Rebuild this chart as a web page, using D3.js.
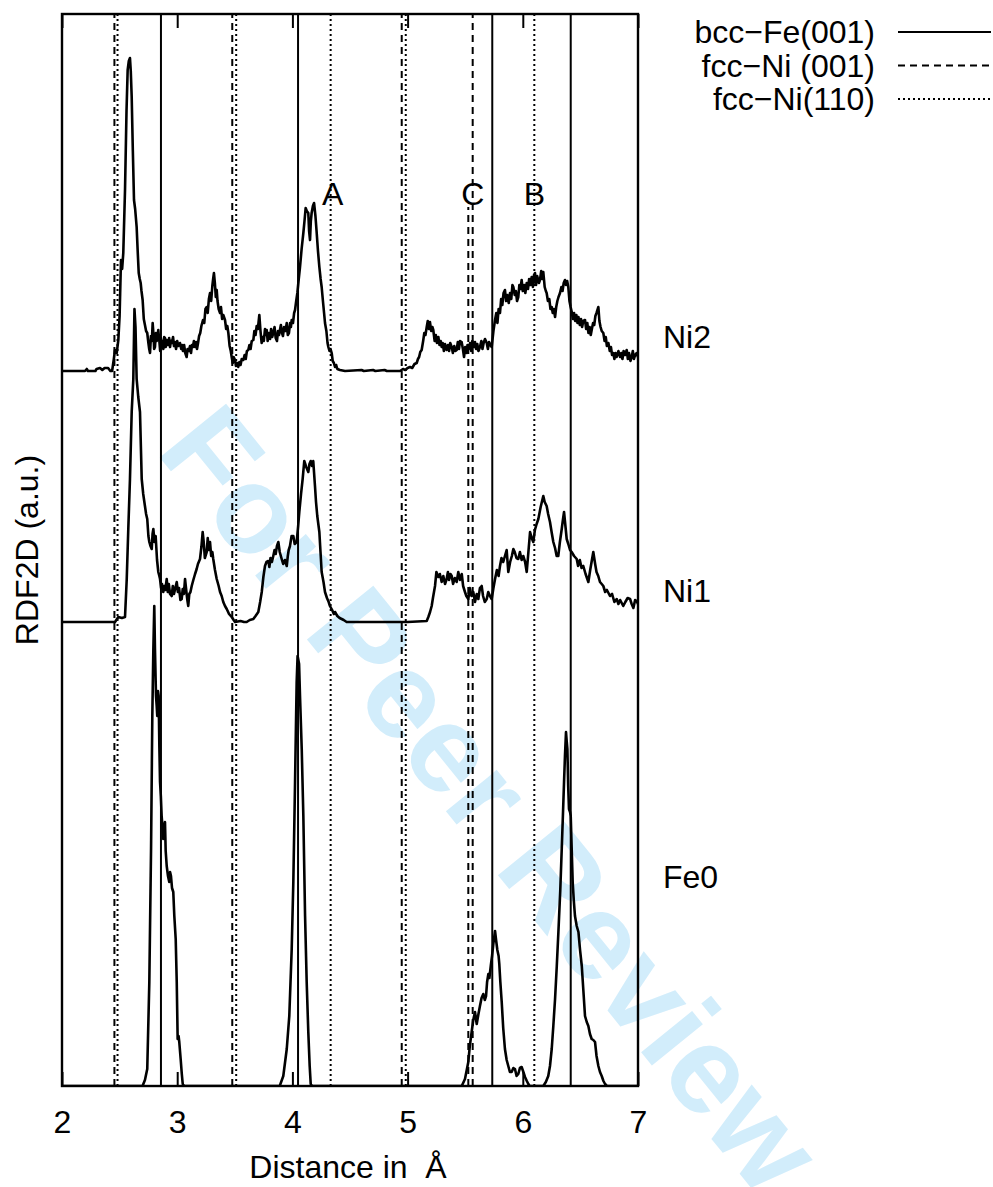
<!DOCTYPE html>
<html>
<head>
<meta charset="utf-8">
<script src="https://cdn.jsdelivr.net/npm/d3@7/dist/d3.min.js"></script>
<style>
  html, body { margin: 0; padding: 0; background: #fff; }
  svg { display: block; }
  text { font-family: "Liberation Sans", Arial, Helvetica, sans-serif; fill: #000; white-space: pre; }
</style>
</head>
<body>
<svg id="chart" width="993" height="1187"></svg>
<script>
// ---------- data ----------
// 2D radial distribution functions, [distance in Å, RDF2D height in a.u.]
const fe0Profile = [
  [2.00,0],[2.70,0],[2.706,0.02],[2.72,0.06],[2.74,0.17],[2.758,1.04],[2.773,2.37],[2.784,3.70],[2.793,4.37],
  [2.801,4.80],[2.807,4.37],[2.816,3.90],[2.822,3.80],[2.827,3.70],[2.833,3.95],[2.839,3.90],[2.845,3.40],
  [2.851,3.04],[2.858,2.90],[2.865,2.70],[2.872,2.60],[2.879,2.47],[2.886,2.58],[2.894,2.64],[2.90,2.35],
  [2.909,2.20],[2.92,2.10],[2.931,2.04],[2.938,2.14],[2.946,2.10],[2.955,1.98],[2.966,1.94],[2.975,1.70],
  [2.987,1.47],[2.996,1.04],[3.004,0.47],[3.012,0.50],[3.018,0.44],[3.030,0.27],[3.04,0.12],[3.048,0.02],
  [3.06,0],[3.89,0],[3.921,0.10],[3.951,0.37],[3.973,0.70],[3.994,1.37],[4.008,2.04],[4.023,3.04],
  [4.037,4.04],[4.045,4.30],[4.058,4.22],[4.066,3.90],[4.081,3.37],[4.095,2.70],[4.110,1.70],[4.124,1.04],
  [4.138,0.54],[4.15,0.20],[4.159,0.02],[4.17,0],[5.47,0],[5.498,0.07],[5.527,0.24],[5.54,0.40],[5.556,0.54],
  [5.57,0.66],[5.585,0.74],[5.60,0.62],[5.615,0.72],[5.628,0.80],[5.642,0.88],[5.657,0.92],[5.67,0.86],
  [5.681,0.90],[5.69,1.04],[5.701,1.12],[5.71,1.08],[5.722,1.20],[5.733,1.30],[5.744,1.42],[5.759,1.55],
  [5.768,1.46],[5.779,1.36],[5.79,1.30],[5.796,1.22],[5.805,1.04],[5.817,0.84],[5.83,0.58],[5.845,0.37],
  [5.86,0.26],[5.874,0.20],[5.888,0.14],[5.903,0.14],[5.918,0.18],[5.932,0.17],[5.946,0.10],[5.961,0.12],
  [5.975,0.18],[5.990,0.19],[6.005,0.14],[6.019,0.09],[6.035,0.05],[6.048,0.02],[6.06,0],[6.178,0],
  [6.20,0.04],[6.221,0.10],[6.236,0.20],[6.251,0.37],[6.265,0.60],[6.280,0.87],[6.295,1.20],[6.309,1.54],
  [6.325,1.95],[6.338,2.37],[6.348,2.70],[6.358,3.04],[6.366,3.30],[6.375,3.54],[6.381,3.45],[6.387,3.37],
  [6.394,3.00],[6.401,2.77],[6.41,2.74],[6.416,2.70],[6.425,2.35],[6.433,2.04],[6.443,1.85],[6.453,1.70],
  [6.468,1.60],[6.483,1.54],[6.497,1.36],[6.512,1.20],[6.526,0.95],[6.540,0.70],[6.555,0.64],[6.569,0.60],
  [6.583,0.52],[6.598,0.47],[6.612,0.46],[6.627,0.44],[6.64,0.30],[6.656,0.20],[6.67,0.14],[6.685,0.10],
  [6.70,0.05],[6.714,0.02],[6.73,0],[7.00,0]
];

const ni1Profile = [
  [2.00,0],[2.30,0],[2.46,0],[2.489,0.05],[2.52,0.04],[2.547,0.05],[2.562,0.43],[2.576,0.95],[2.590,1.43],
  [2.605,2.10],[2.619,2.43],[2.629,3.13],[2.638,2.95],[2.648,2.43],[2.662,2.25],[2.677,2.10],[2.692,1.43],
  [2.705,1.28],[2.720,1.16],[2.730,1.08],[2.740,1.03],[2.750,0.86],[2.758,0.80],[2.768,0.76],[2.779,0.73],
  [2.786,0.88],[2.793,0.93],[2.803,0.80],[2.813,0.86],[2.825,0.62],[2.836,0.50],[2.845,0.46],[2.851,0.43],
  [2.86,0.34],[2.868,0.38],[2.879,0.30],[2.888,0.36],[2.897,0.32],[2.909,0.43],[2.918,0.30],[2.927,0.38],
  [2.938,0.28],[2.952,0.26],[2.962,0.36],[2.972,0.28],[2.984,0.34],[2.996,0.40],[3.006,0.30],[3.016,0.34],
  [3.028,0.22],[3.039,0.23],[3.048,0.33],[3.058,0.28],[3.068,0.43],[3.08,0.30],[3.088,0.22],[3.096,0.16],
  [3.105,0.28],[3.115,0.30],[3.126,0.36],[3.14,0.42],[3.155,0.48],[3.169,0.53],[3.18,0.58],[3.198,0.63],
  [3.21,0.75],[3.221,0.90],[3.23,0.80],[3.24,0.64],[3.256,0.70],[3.265,0.84],[3.275,0.72],[3.285,0.80],
  [3.295,0.66],[3.305,0.70],[3.313,0.63],[3.328,0.52],[3.343,0.43],[3.36,0.36],[3.372,0.30],[3.386,0.26],
  [3.40,0.20],[3.415,0.16],[3.430,0.13],[3.45,0.08],[3.473,0.05],[3.49,0.02],[3.502,0],[3.55,0.01],
  [3.58,0],[3.603,0],[3.63,0.02],[3.661,0.03],[3.68,0.06],[3.704,0.10],[3.72,0.20],[3.734,0.30],
  [3.748,0.45],[3.762,0.56],[3.775,0.60],[3.791,0.61],[3.80,0.55],[3.81,0.64],[3.822,0.60],[3.834,0.66],
  [3.845,0.72],[3.855,0.68],[3.866,0.76],[3.878,0.80],[3.89,0.70],[3.907,0.63],[3.92,0.58],[3.935,0.62],
  [3.951,0.56],[3.96,0.66],[3.968,0.72],[3.979,0.76],[3.993,0.86],[4.008,0.86],[4.02,0.78],[4.037,0.80],
  [4.05,0.96],[4.060,1.10],[4.075,1.28],[4.089,1.43],[4.103,1.61],[4.12,1.55],[4.138,1.50],[4.148,1.58],
  [4.159,1.61],[4.17,1.56],[4.181,1.61],[4.196,1.36],[4.205,1.20],[4.216,1.06],[4.234,0.90],[4.244,0.70],
  [4.254,0.50],[4.27,0.40],[4.283,0.30],[4.30,0.24],[4.315,0.20],[4.326,0.16],[4.345,0.12],[4.36,0.08],
  [4.370,0.10],[4.39,0.06],[4.41,0.04],[4.428,0.03],[4.445,0.02],[4.471,0],[5.00,0],[5.166,0.01],
  [5.18,0.05],[5.195,0.10],[5.209,0.16],[5.22,0.24],[5.238,0.36],[5.25,0.50],[5.267,0.45],[5.28,0.48],
  [5.296,0.40],[5.31,0.46],[5.325,0.38],[5.339,0.43],[5.35,0.50],[5.36,0.42],[5.372,0.48],[5.383,0.46],
  [5.395,0.38],[5.41,0.44],[5.426,0.40],[5.44,0.50],[5.455,0.42],[5.470,0.48],[5.482,0.36],[5.498,0.30],
  [5.51,0.26],[5.527,0.23],[5.54,0.34],[5.555,0.26],[5.570,0.30],[5.585,0.20],[5.60,0.28],[5.614,0.23],
  [5.628,0.34],[5.643,0.36],[5.655,0.26],[5.67,0.20],[5.687,0.23],[5.70,0.30],[5.715,0.26],[5.730,0.23],
  [5.745,0.34],[5.759,0.43],[5.775,0.52],[5.79,0.46],[5.802,0.56],[5.815,0.64],[5.83,0.60],[5.845,0.66],
  [5.86,0.72],[5.874,0.50],[5.89,0.60],[5.905,0.66],[5.918,0.73],[5.93,0.70],[5.945,0.64],[5.961,0.63],
  [5.975,0.70],[5.99,0.62],[6.004,0.66],[6.02,0.60],[6.034,0.50],[6.05,0.72],[6.063,0.90],[6.077,0.84],
  [6.091,0.80],[6.105,0.92],[6.12,0.98],[6.135,1.03],[6.155,1.15],[6.178,1.26],[6.19,1.20],[6.207,1.16],
  [6.22,1.08],[6.236,1.00],[6.25,0.90],[6.265,0.80],[6.28,0.74],[6.294,0.66],[6.308,0.66],[6.322,0.80],
  [6.338,0.93],[6.348,1.02],[6.358,1.10],[6.37,0.96],[6.381,0.83],[6.395,0.78],[6.41,0.72],[6.424,0.70],
  [6.445,0.66],[6.468,0.63],[6.48,0.56],[6.495,0.62],[6.51,0.54],[6.525,0.56],[6.545,0.48],[6.569,0.40],
  [6.585,0.52],[6.60,0.62],[6.612,0.70],[6.628,0.58],[6.64,0.50],[6.655,0.46],[6.67,0.40],[6.685,0.38],
  [6.699,0.36],[6.715,0.30],[6.73,0.32],[6.757,0.26],[6.775,0.28],[6.795,0.20],[6.815,0.23],[6.83,0.18],
  [6.845,0.22],[6.872,0.16],[6.89,0.20],[6.91,0.24],[6.931,0.23],[6.945,0.18],[6.96,0.14],[6.975,0.22],
  [6.989,0.21],[7.00,0.18]
];

const ni2Profile = [
  [2.00,0],[2.10,0],[2.20,0],[2.215,0.02],[2.225,0],[2.29,0],[2.30,0.02],[2.33,0.03],[2.35,0.01],[2.37,0.03],
  [2.40,0.03],[2.42,0],[2.435,0],[2.45,0.12],[2.46,0.21],[2.475,0.18],[2.489,0.31],[2.50,0.55],[2.512,1.11],
  [2.522,1.02],[2.532,1.18],[2.547,1.81],[2.56,2.60],[2.570,3.01],[2.58,3.10],[2.590,3.13],[2.597,3.00],
  [2.605,2.74],[2.615,2.20],[2.625,1.71],[2.635,1.62],[2.648,1.44],[2.657,1.20],[2.666,0.98],[2.675,0.92],
  [2.683,0.88],[2.69,0.80],[2.700,0.71],[2.71,0.52],[2.720,0.46],[2.73,0.40],[2.740,0.38],[2.75,0.28],
  [2.757,0.22],[2.764,0.18],[2.772,0.35],[2.78,0.30],[2.787,0.48],[2.795,0.35],[2.80,0.22],[2.807,0.24],
  [2.815,0.38],[2.822,0.30],[2.83,0.36],[2.836,0.41],[2.845,0.30],[2.852,0.20],[2.858,0.33],[2.865,0.24],
  [2.873,0.30],[2.88,0.22],[2.887,0.34],[2.894,0.33],[2.90,0.24],[2.908,0.31],[2.915,0.27],[2.92,0.26],
  [2.93,0.33],[2.938,0.24],[2.945,0.30],[2.953,0.28],[2.964,0.34],[2.972,0.25],[2.98,0.29],[2.99,0.22],
  [3.00,0.30],[3.01,0.25],[3.024,0.28],[3.035,0.22],[3.042,0.26],[3.05,0.20],[3.06,0.26],[3.07,0.18],
  [3.082,0.14],[3.09,0.22],[3.10,0.20],[3.111,0.25],[3.12,0.18],[3.128,0.26],[3.137,0.24],[3.145,0.30],
  [3.155,0.24],[3.165,0.29],[3.172,0.22],[3.181,0.28],[3.19,0.35],[3.20,0.38],[3.21,0.45],[3.224,0.51],
  [3.235,0.48],[3.245,0.62],[3.256,0.64],[3.265,0.58],[3.275,0.72],[3.285,0.78],[3.295,0.70],[3.305,0.85],
  [3.312,0.92],[3.319,0.98],[3.327,0.88],[3.335,0.74],[3.343,0.81],[3.35,0.70],[3.36,0.62],[3.372,0.58],
  [3.38,0.64],[3.39,0.52],[3.40,0.56],[3.415,0.51],[3.425,0.42],[3.435,0.45],[3.444,0.38],[3.455,0.25],
  [3.465,0.20],[3.473,0.14],[3.482,0.08],[3.49,0.14],[3.502,0.11],[3.51,0.05],[3.52,0.08],[3.530,0.04],
  [3.54,0.09],[3.55,0.06],[3.56,0.12],[3.574,0.11],[3.585,0.16],[3.595,0.12],[3.605,0.20],[3.617,0.21],
  [3.627,0.26],[3.637,0.22],[3.647,0.30],[3.661,0.31],[3.67,0.40],[3.68,0.36],[3.69,0.45],[3.70,0.42],
  [3.713,0.56],[3.723,0.40],[3.733,0.28],[3.742,0.34],[3.752,0.30],[3.762,0.42],[3.770,0.36],[3.777,0.41],
  [3.785,0.30],[3.795,0.38],[3.806,0.32],[3.815,0.42],[3.825,0.34],[3.834,0.38],[3.845,0.44],[3.855,0.33],
  [3.866,0.30],[3.875,0.40],[3.884,0.36],[3.892,0.41],[3.90,0.46],[3.91,0.38],[3.918,0.35],[3.928,0.44],
  [3.94,0.40],[3.951,0.48],[3.96,0.36],[3.97,0.38],[3.98,0.48],[3.987,0.44],[3.994,0.51],[4.005,0.48],
  [4.015,0.58],[4.023,0.61],[4.033,0.70],[4.043,0.78],[4.055,0.92],[4.066,1.04],[4.08,1.22],[4.095,1.38],
  [4.105,1.50],[4.115,1.63],[4.125,1.60],[4.138,1.58],[4.145,1.40],[4.153,1.31],[4.16,1.50],[4.167,1.58],
  [4.178,1.65],[4.188,1.68],[4.20,1.55],[4.211,1.38],[4.222,1.20],[4.234,1.04],[4.245,0.92],[4.254,0.84],
  [4.265,0.70],[4.275,0.58],[4.283,0.48],[4.295,0.40],[4.305,0.28],[4.312,0.24],[4.322,0.20],[4.331,0.22],
  [4.341,0.18],[4.35,0.10],[4.36,0.08],[4.370,0.04],[4.38,0.06],[4.39,0.02],[4.413,0.01],[4.457,0],
  [4.60,0.01],[4.62,0],[4.70,0.01],[4.72,0],[4.80,0.01],[4.82,0],[4.934,0],[4.96,0.02],[4.98,0.01],
  [5.00,0.03],[5.021,0.04],[5.04,0.03],[5.06,0.07],[5.079,0.08],[5.09,0.12],[5.10,0.14],[5.11,0.19],
  [5.122,0.21],[5.135,0.30],[5.145,0.38],[5.155,0.36],[5.166,0.44],[5.175,0.50],[5.185,0.42],[5.194,0.49],
  [5.205,0.40],[5.215,0.44],[5.223,0.41],[5.235,0.30],[5.245,0.36],[5.255,0.28],[5.267,0.34],[5.277,0.26],
  [5.287,0.30],[5.296,0.24],[5.305,0.28],[5.315,0.20],[5.325,0.27],[5.339,0.21],[5.35,0.26],[5.36,0.20],
  [5.37,0.28],[5.383,0.24],[5.393,0.18],[5.405,0.25],[5.415,0.20],[5.426,0.21],[5.436,0.29],[5.446,0.22],
  [5.455,0.30],[5.469,0.29],[5.48,0.22],[5.49,0.14],[5.50,0.24],[5.513,0.18],[5.52,0.26],[5.53,0.22],
  [5.542,0.28],[5.552,0.20],[5.562,0.30],[5.575,0.24],[5.585,0.29],[5.595,0.22],[5.605,0.27],[5.615,0.20],
  [5.628,0.24],[5.64,0.30],[5.65,0.22],[5.66,0.28],[5.672,0.32],[5.687,0.28],[5.697,0.22],[5.707,0.29],
  [5.718,0.26],[5.730,0.24],[5.745,0.40],[5.759,0.51],[5.77,0.58],[5.78,0.48],[5.79,0.62],[5.802,0.58],
  [5.812,0.72],[5.822,0.66],[5.833,0.78],[5.845,0.81],[5.855,0.70],[5.865,0.76],[5.878,0.68],[5.889,0.78],
  [5.90,0.72],[5.91,0.86],[5.918,0.84],[5.93,0.76],[5.94,0.80],[5.95,0.70],[5.961,0.74],[5.97,0.86],
  [5.98,0.82],[5.990,0.91],[6.00,0.80],[6.012,0.86],[6.022,0.78],[6.034,0.88],[6.045,0.82],[6.055,0.92],
  [6.066,0.86],[6.077,0.94],[6.088,0.84],[6.097,0.96],[6.106,0.98],[6.115,0.86],[6.125,0.95],[6.14,0.88],
  [6.149,0.91],[6.16,1.00],[6.17,0.92],[6.178,0.99],[6.19,0.84],[6.20,0.80],[6.207,0.78],[6.218,0.70],
  [6.23,0.72],[6.24,0.62],[6.251,0.64],[6.26,0.58],[6.27,0.62],[6.280,0.54],[6.29,0.64],[6.30,0.70],
  [6.31,0.74],[6.323,0.78],[6.335,0.84],[6.345,0.80],[6.355,0.88],[6.366,0.91],[6.375,0.86],[6.385,0.90],
  [6.395,0.84],[6.405,0.70],[6.415,0.64],[6.425,0.59],[6.435,0.52],[6.445,0.58],[6.455,0.50],[6.465,0.56],
  [6.475,0.48],[6.483,0.54],[6.495,0.46],[6.505,0.52],[6.515,0.44],[6.525,0.50],[6.540,0.51],[6.55,0.42],
  [6.56,0.48],[6.57,0.38],[6.58,0.44],[6.59,0.36],[6.598,0.41],[6.61,0.48],[6.62,0.46],[6.63,0.55],
  [6.64,0.58],[6.656,0.64],[6.665,0.50],[6.675,0.44],[6.685,0.40],[6.699,0.38],[6.71,0.30],[6.72,0.34],
  [6.73,0.25],[6.743,0.28],[6.755,0.20],[6.765,0.24],[6.775,0.16],[6.786,0.18],[6.795,0.12],[6.805,0.18],
  [6.815,0.14],[6.83,0.20],[6.844,0.14],[6.855,0.18],[6.865,0.12],[6.875,0.20],[6.888,0.16],[6.902,0.21],
  [6.912,0.12],[6.922,0.18],[6.935,0.10],[6.945,0.14],[6.955,0.20],[6.965,0.12],[6.975,0.16],[6.988,0.18],
  [7.00,0.14]
];

// vertical stacking of the three curves (a.u.)
const seriesNames   = ["Fe0", "Ni1", "Ni2"];
const seriesOffsets = [0, 4.64, 7.15];
const seriesLabelAt = [1.98, 4.84, 7.38];

// reference neighbour distances (Å)
const bccFe001 = [2.859, 4.049, 5.735, 6.416];
const fccNi001 = [2.455, 3.478, 4.949, 5.565];
const fccNi001Partial = [[5.527, 8.79]];   // [distance, upper end in a.u.]
const fccNi110 = [2.482, 3.512, 4.332, 4.984, 6.100];

// peak annotations
const peakLabels = [["A", 4.35], ["C", 5.565], ["B", 6.10]];

const xTicks = [2, 3, 4, 5, 6, 7];
const legendItems = [
  ["bcc\u2212Fe(001)", "solid"],
  ["fcc\u2212Ni (001)", "dashed"],
  ["fcc\u2212Ni(110)", "dotted"]
];

// ---------- layout ----------
const svg = d3.select("#chart");
const plot = { left: 62, right: 638, top: 14, bottom: 1086 };
const x = d3.scaleLinear().domain([2, 7]).range([plot.left, plot.right]);
const y = d3.scaleLinear().domain([0, 10.72]).range([plot.bottom, plot.top]);
const dashes = { solid: null, dashed: "7,5", dotted: "2,3" };
const FONT = 32;

// watermark
svg.append("text")
  .attr("transform", "translate(458,826) rotate(51)")
  .attr("text-anchor", "middle")
  .style("font-size", "124px")
  .style("font-weight", "bold")
  .style("fill", "#d2edfb")
  .text("For Peer Review");

svg.append("clipPath").attr("id", "plotClip")
  .append("rect")
  .attr("x", plot.left).attr("y", plot.top)
  .attr("width", plot.right - plot.left).attr("height", plot.bottom - plot.top);

const g = svg.append("g").attr("clip-path", "url(#plotClip)");

// reference lines
function refLines(values, style) {
  g.selectAll(null).data(values).enter().append("line")
    .attr("x1", d => x(d)).attr("x2", d => x(d))
    .attr("y1", y(0)).attr("y2", plot.top)
    .attr("stroke", "#000").attr("stroke-width", 2)
    .attr("stroke-dasharray", dashes[style]);
}
refLines(bccFe001, "solid");
refLines(fccNi001, "dashed");
refLines(fccNi110, "dotted");
g.selectAll(null).data(fccNi001Partial).enter().append("line")
  .attr("x1", d => x(d[0])).attr("x2", d => x(d[0]))
  .attr("y1", y(0)).attr("y2", d => y(d[1]))
  .attr("stroke", "#000").attr("stroke-width", 2)
  .attr("stroke-dasharray", dashes.dashed);

// RDF curves
const profiles = [fe0Profile, ni1Profile, ni2Profile];
profiles.forEach((prof, i) => {
  const off = seriesOffsets[i];
  const line = d3.line().x(d => x(d[0])).y(d => y(d[1] + off));
  g.append("path")
    .attr("d", line(prof))
    .attr("fill", "none")
    .attr("stroke", "#000")
    .attr("stroke-width", 2.6)
    .attr("stroke-linejoin", "round");
});

// axes: inward ticks on bottom and top
const bottomAxis = d3.axisBottom(x).tickValues(xTicks).tickSizeInner(-14).tickSizeOuter(0)
  .tickPadding(24).tickFormat(d3.format("d"));
const ax = svg.append("g").attr("transform", `translate(0,${plot.bottom})`).call(bottomAxis);
ax.select(".domain").remove();
ax.selectAll(".tick line").attr("stroke", "#000").attr("stroke-width", 2);
ax.selectAll(".tick text").style("font-size", FONT + "px")
  .style("font-family", "'Liberation Sans', Arial, sans-serif");

const topAxis = d3.axisTop(x).tickValues(xTicks).tickSizeInner(-14).tickSizeOuter(0).tickFormat("");
const at = svg.append("g").attr("transform", `translate(0,${plot.top})`).call(topAxis);
at.select(".domain").remove();
at.selectAll(".tick line").attr("stroke", "#000").attr("stroke-width", 2);

// frame
svg.append("rect")
  .attr("x", plot.left).attr("y", plot.top)
  .attr("width", plot.right - plot.left).attr("height", plot.bottom - plot.top)
  .attr("fill", "none").attr("stroke", "#000").attr("stroke-width", 2.4);

// axis titles
svg.append("text")
  .attr("x", (plot.left + plot.right) / 2 - 2).attr("y", 1178)
  .attr("text-anchor", "middle").style("font-size", FONT + "px")
  .text("Distance in  \u00C5");

svg.append("text")
  .attr("transform", `translate(38,${(plot.top + plot.bottom) / 2}) rotate(-90)`)
  .attr("text-anchor", "middle").style("font-size", FONT + "px")
  .text("RDF2D (a.u.)");

// peak labels
svg.selectAll(null).data(peakLabels).enter().append("text")
  .attr("x", d => x(d[1])).attr("y", 205)
  .attr("text-anchor", "middle").style("font-size", FONT + "px")
  .text(d => d[0]);

// series labels
svg.selectAll(null).data(seriesNames).enter().append("text")
  .attr("x", 663).attr("y", (d, i) => y(seriesLabelAt[i]))
  .style("font-size", FONT + "px")
  .text(d => d);

// legend
const legend = svg.append("g");
legendItems.forEach((item, i) => {
  const ly = 32 + i * 33.5;
  legend.append("text")
    .attr("x", 875).attr("y", ly + 11)
    .attr("text-anchor", "end").style("font-size", FONT + "px")
    .text(item[0]);
  legend.append("line")
    .attr("x1", 898).attr("x2", 991).attr("y1", ly).attr("y2", ly)
    .attr("stroke", "#000").attr("stroke-width", 2)
    .attr("stroke-dasharray", dashes[item[1]]);
});
</script>
</body>
</html>
